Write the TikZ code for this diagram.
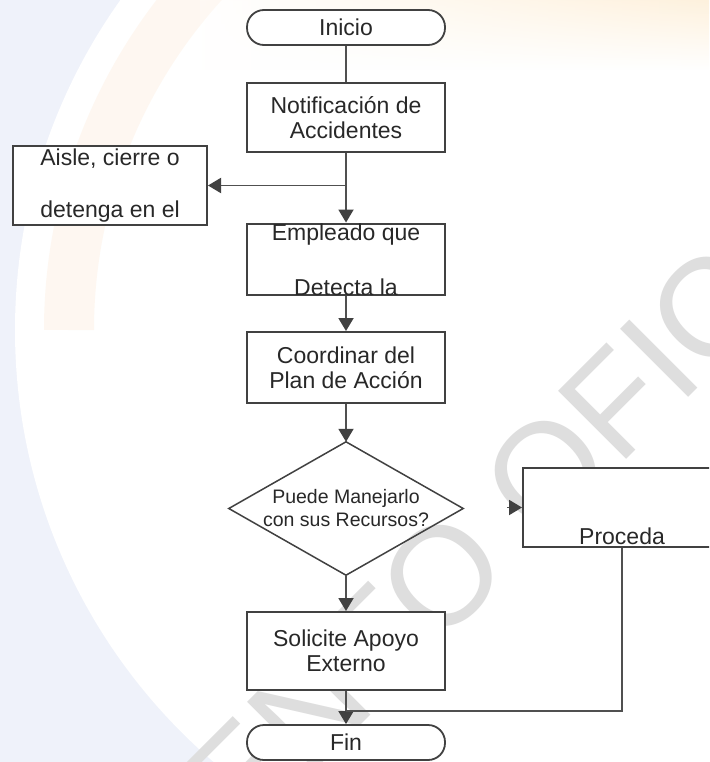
\documentclass[tikz,border=0pt]{standalone}
\usepackage{fontspec}
\setmainfont{Liberation Sans}
\usetikzlibrary{arrows.meta, calc, fadings}

\definecolor{linegray}{RGB}{80,80,80}
\definecolor{boxgray}{RGB}{65,65,65}
\definecolor{txtgray}{RGB}{40,40,40}
\definecolor{bgblue}{RGB}{239,242,250}
\definecolor{bgorange}{RGB}{250,150,60}
\definecolor{bgyellow}{RGB}{250,200,120}
\definecolor{markgray}{RGB}{222,222,222}

\begin{document}
\begin{tikzpicture}[x=1pt, y=-1pt,
  every node/.style={font=\fontsize{23}{25}\selectfont, text=txtgray},
  box/.style={draw=boxgray, line width=2pt, fill=white, minimum width=198pt,
    minimum height=71pt, inner sep=0pt, align=center},
  term/.style={draw=boxgray, line width=1.8pt, fill=white, rounded corners=17pt,
    minimum width=198pt, minimum height=35pt, inner sep=0pt},
  decision/.style={minimum width=234pt, minimum height=133pt, inner sep=0pt,
    align=center, font=\fontsize{19.5}{23}\selectfont},
  link/.style={draw=linegray, line width=1.9pt},
  arr/.style={link, -{Triangle[length=13pt, width=15pt, color=boxgray]}}
]
  % page
  \useasboundingbox (0,0) rectangle (709,762);
  \clip (0,0) rectangle (709,762);

  % background
  \fill[bgblue] (0,0) rectangle (709,762);
  \fill[white] (584,330) circle[radius=569];
  \draw[bgorange, opacity=0.07, line width=50pt] (584,330) ++(180:515) arc[start angle=180, end angle=240, radius=515];
  \shade[left color=white, right color=bgyellow, path fading=south, opacity=0.25] (200,0) rectangle (709,70);

  % watermark
  \node[rotate=45, anchor=base west, inner sep=0pt, text=markgray,
    font=\fontsize{140}{140}\selectfont] (mark) at (-133,1219) {DOCUMENTO OFICIAL};

  % steps
  \node[term] (inicio) at (346,27.5) {Inicio};
  \node[box, minimum height=69pt] (notif) at (346,117.5) {Notificación de\\Accidentes};
  \node[box, minimum width=194pt, minimum height=79pt] (aisle) at (110,185.5) {Aisle, cierre o\\[27pt]detenga en el};
  \node[box] (emple) at (346,259.5) {Empleado que\\[30pt]Detecta la};
  \node[box] (coord) at (346,367.5) {Coordinar del\\Plan de Acción};
  \node[decision] (puede) at (346,508.5) {Puede Manejarlo\\con sus Recursos?};
  \node[box, minimum height=79pt, label={[anchor=base, yshift=4pt]south:Proceda}] (proceda) at (622,507.5) {};
  \node[box, minimum height=78pt] (solic) at (346,651) {Solicite Apoyo\\Externo};
  \node[term] (fin) at (346,742.5) {Fin};

  % decision outline
  \draw[draw=boxgray, line width=1.5pt]
    (puede.north) -- (puede.east) -- (puede.south) -- (puede.west) -- cycle;

  % links
  \coordinate (split) at (notif.south |- aisle.east);
  \coordinate (gap) at ($(proceda.west)+(-15,0)$);
  \coordinate (merge) at ($(fin.north)+(0,-13)$);
  \draw[link] (inicio) -- (notif);
  \draw[arr] (notif) -- (emple);
  \draw[arr] (split) -- (aisle.east);
  \draw[arr] (emple) -- (coord);
  \draw[arr] (coord) -- (puede.north);
  \draw[arr] (puede.south) -- (solic);
  \draw[arr] (solic) -- (fin);
  \draw[arr] (gap) -- (proceda.west);
  \draw[link] (proceda.south) |- (merge);
\end{tikzpicture}
\end{document}
